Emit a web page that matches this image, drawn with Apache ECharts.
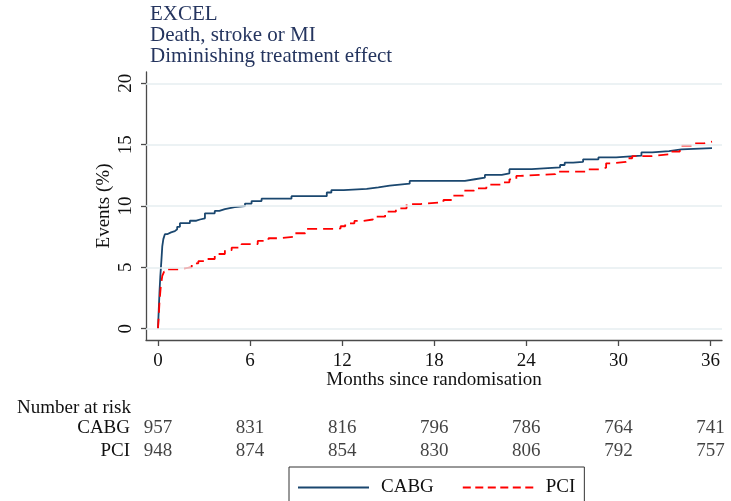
<!DOCTYPE html>
<html><head><meta charset="utf-8">
<script src="https://cdn.jsdelivr.net/npm/echarts@6/dist/echarts.min.js"></script>
<style>html,body{margin:0;padding:0;background:#fff}#c{width:731px;height:501px}</style>
</head><body><div id="c"></div>
<script>
// ---- data ----
var titleLines = ['EXCEL', 'Death, stroke or MI', 'Diminishing treatment effect'];
var seriesNames = ['CABG', 'PCI'];
var xTicks = [0, 6, 12, 18, 24, 30, 36];
var yTicks = [0, 5, 10, 15, 20];
var riskCABG = [957, 831, 816, 796, 786, 764, 741];
var riskPCI = [948, 874, 854, 830, 806, 792, 757];
var cabgT = [0,0.05,0.1,0.15,0.22,0.28,0.35,0.45,0.6,0.85,1.1,1.25,1.43,2.08,2.5,2.74,3.06,3.7,4.0,4.36,5.0,5.67,6.1,6.75,8.7,11.0,11.3,12.1,13.6,14.36,15.1,16.4,20.0,20.65,21.3,22.4,22.9,24.35,26.2,26.5,27.05,27.7,28.7,29.85,31.5,32.2,33.3,34.1,36.1];
var cabgV = [0,1.5,3.0,4.2,5.5,6.7,7.3,7.7,7.85,7.95,8.1,8.3,8.6,8.8,8.9,9.0,9.4,9.6,9.75,9.9,10.0,10.2,10.4,10.6,10.8,11.1,11.3,11.4,11.52,11.66,11.82,12.04,12.18,12.31,12.53,12.66,13.0,13.15,13.34,13.53,13.6,13.8,13.97,14.1,14.37,14.48,14.62,14.72,14.72];
var pciT = [0,0.05,0.1,0.18,0.28,0.4,0.56,1.33,2.2,2.63,3.06,3.7,4.36,4.8,5.45,6.5,7.2,7.85,8.9,9.6,11.75,11.9,12.2,12.8,13.4,14.0,14.8,15.5,16.2,17.1,18.6,19.2,19.9,20.6,21.4,22.5,22.9,23.35,23.6,25.9,27.9,28.8,29.2,29.65,30.5,30.9,32.2,33.3,34.0,34.9,35.6,36.1];
var pciV = [0,1.0,2.2,3.4,4.3,4.65,4.84,5.0,5.33,5.5,5.68,6.09,6.4,6.6,6.9,7.15,7.37,7.5,7.78,8.13,8.18,8.35,8.59,8.78,8.9,9.13,9.54,9.81,10.16,10.3,10.49,10.84,11.25,11.44,11.74,11.93,12.17,12.45,12.6,12.8,12.99,13.12,13.48,13.6,13.89,14.07,14.21,14.43,14.92,15.11,15.24,15.24];

function pairs(t, v) { return t.map(function (x, i) { return [x, v[i]]; }); }
function riskRow(name, vals) { return xTicks.map(function (x, i) { return [x, name, vals[i]]; }); }

var FONT = 'Liberation Serif';
var NAVY = '#1a476f';
var AX = '#4a4a4a';
var FS = 19;
var X_MIN = -0.78, X_MAX = 36.75, Y_MIN = -0.92, Y_MAX = 20.92;

var chart = echarts.init(document.getElementById('c'), null, {renderer: 'canvas'});
chart.setOption({
  animation: false,
  backgroundColor: '#fff',
  title: {
    text: titleLines.join('\n'), left: 150, top: 4, padding: 0,
    textStyle: {fontFamily: FONT, fontSize: 21, fontWeight: 'normal', color: '#25355f', lineHeight: 21}
  },
  graphic: [{
    type: 'text', left: 17, top: 399,
    style: {text: 'Number at risk', fontFamily: FONT, fontSize: FS, fill: '#111'}
  }],
  legend: {
    data: [
      {name: seriesNames[0]},
      {name: seriesNames[1], lineStyle: {type: [8, 4.5]}}
    ],
    left: 289, top: 467, orient: 'horizontal',
    padding: [11, 9, 16, 8], itemGap: 28, itemWidth: 71, itemHeight: 14,
    borderColor: '#333', borderWidth: 1, borderRadius: 0,
    itemStyle: {opacity: 0},
    textStyle: {fontFamily: FONT, fontSize: 19, color: '#111', padding: [0, 0, 0, 7]}
  },
  grid: [
    {left: 146, top: 72, width: 576, height: 268},
    {left: 146, top: 417, width: 576, height: 46}
  ],
  xAxis: [{
    type: 'value', gridIndex: 0, min: X_MIN, max: X_MAX,
    name: 'Months since randomisation', nameLocation: 'middle', nameGap: 31, nameMoveOverlap: false,
    nameTextStyle: {fontFamily: FONT, fontSize: FS, color: '#111'},
    axisLine: {show: true, onZero: false, lineStyle: {color: AX, width: 1.3}},
    axisTick: {show: true, customValues: xTicks, length: 6, lineStyle: {color: AX, width: 1.3}},
    axisLabel: {customValues: xTicks, margin: 12, fontFamily: FONT, fontSize: FS, color: '#111'},
    splitLine: {show: false}
  }, {
    type: 'value', gridIndex: 1, min: X_MIN, max: X_MAX, show: false
  }],
  yAxis: [{
    type: 'value', gridIndex: 0, min: Y_MIN, max: Y_MAX,
    name: 'Events (%)', nameLocation: 'middle', nameGap: 32, nameMoveOverlap: false,
    nameTextStyle: {fontFamily: FONT, fontSize: FS, color: '#111'},
    axisLine: {show: true, onZero: false, lineStyle: {color: AX, width: 1.3}},
    axisTick: {show: true, customValues: yTicks, length: 5, lineStyle: {color: AX, width: 1.3}},
    axisLabel: {customValues: yTicks, rotate: 90, margin: 10, fontFamily: FONT, fontSize: FS, color: '#111'},
    splitLine: {show: false}
  }, {
    type: 'category', gridIndex: 1, data: seriesNames, inverse: true,
    axisLine: {show: false}, axisTick: {show: false},
    axisLabel: {interval: 0, margin: 16, fontFamily: FONT, fontSize: FS, color: '#111'}
  }],
  series: [
    {
      type: 'line', name: '_grid', xAxisIndex: 0, yAxisIndex: 0, data: [], z: 1, silent: true,
      markLine: {
        silent: true, symbol: ['none', 'none'], label: {show: false},
        lineStyle: {color: '#e6eef0', width: 1.5, type: 'solid'},
        data: yTicks.map(function (v) { return {yAxis: v}; })
      }
    },
    {
      type: 'line', name: seriesNames[0], xAxisIndex: 0, yAxisIndex: 0, step: 'end', symbol: 'none', z: 3,
      data: pairs(cabgT, cabgV), color: NAVY,
      lineStyle: {color: NAVY, width: 1.8}
    },
    {
      type: 'line', name: seriesNames[1], xAxisIndex: 0, yAxisIndex: 0, step: 'end', symbol: 'none', z: 4,
      data: pairs(pciT, pciV), color: '#ff0000',
      lineStyle: {color: '#ff0000', width: 1.8, type: [10, 6]}
    },
    {
      type: 'scatter', name: 'riskCABG', xAxisIndex: 1, yAxisIndex: 1, symbolSize: 0, silent: true,
      data: riskRow(seriesNames[0], riskCABG),
      label: {show: true, position: 'inside', formatter: function (p) { return p.value[2]; },
        fontFamily: FONT, fontSize: FS, color: '#111'}
    },
    {
      type: 'scatter', name: 'riskPCI', xAxisIndex: 1, yAxisIndex: 1, symbolSize: 0, silent: true,
      data: riskRow(seriesNames[1], riskPCI),
      label: {show: true, position: 'inside', formatter: function (p) { return p.value[2]; },
        fontFamily: FONT, fontSize: FS, color: '#111'}
    }
  ]
});
</script></body></html>
